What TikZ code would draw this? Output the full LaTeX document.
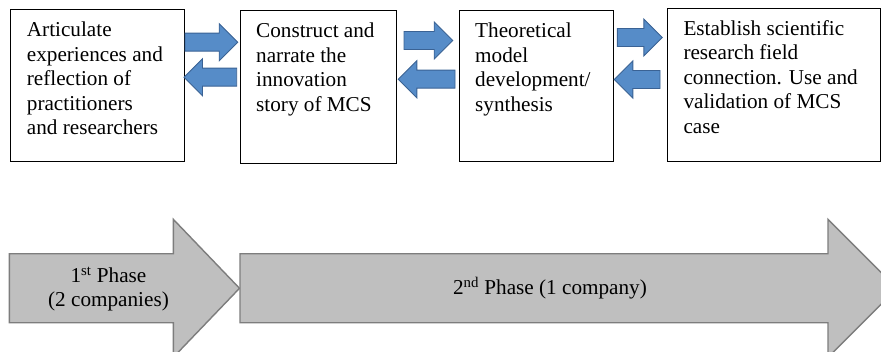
\documentclass[tikz,border=0pt]{standalone}
\usepackage{fontspec}
\setmainfont{Liberation Serif}
\usetikzlibrary{calc}
\definecolor{arrowblue}{RGB}{86,140,200}
\definecolor{arrowblueline}{RGB}{58,98,148}
\definecolor{phasegray}{RGB}{191,191,191}
\definecolor{phaseline}{RGB}{125,125,125}
\tikzset{
  box/.style={draw=black, line width=1pt, anchor=north west, inner sep=0pt},
  boxtext/.style={anchor=north west, inner sep=0pt, align=left,
    font=\fontsize{21.2}{24.5}\selectfont},
  phasetext/.style={inner sep=0pt, align=center,
    font=\fontsize{21.2}{24.2}\selectfont},
  bluearrow/.style={fill=arrowblue, draw=arrowblueline, line width=0.9pt, line join=miter},
  grayarrow/.style={fill=phasegray, draw=phaseline, line width=1.4pt, line join=miter}
}
\newcommand{\blockR}[3]{%
  \draw[bluearrow] (#1,#3-9) -- (#2-18.5,#3-9) -- (#2-18.5,#3-18.5) -- (#2,#3)
    -- (#2-18.5,#3+18.5) -- (#2-18.5,#3+9) -- (#1,#3+9) -- cycle;}
\newcommand{\blockL}[3]{%
  \draw[bluearrow] (#1,#3) -- (#1+18.5,#3-18.5) -- (#1+18.5,#3-9) -- (#2,#3-9)
    -- (#2,#3+9) -- (#1+18.5,#3+9) -- (#1+18.5,#3+18.5) -- cycle;}
\newcommand{\phasearrow}[3]{%
  \draw[grayarrow] (#1,253.8) -- (#2,253.8) -- (#2,219.3) -- (#3,288.3)
    -- (#2,357.3) -- (#2,322.8) -- (#1,322.8) -- cycle;}
\begin{document}
\begin{tikzpicture}[x=1pt,y=-1pt]
  \useasboundingbox (0,0) rectangle (881,352);
  \clip (0,0) rectangle (881,352);
  % boxes
  \node[box, minimum width=173.4pt, minimum height=152.3pt] (b1) at (10.3,8.7) {};
  \node[box, minimum width=155.7pt, minimum height=152.4pt] (b2) at (240,10.3) {};
  \node[box, minimum width=154pt, minimum height=150.7pt] (b3) at (458.7,10) {};
  \node[box, minimum width=213.6pt, minimum height=153.3pt] (b4) at (666.7,7.7) {};
  % box texts
  \node[boxtext] (t1) at (26.7,19.5) {\strut Articulate\\experiences and\\reflection of\\practitioners\\and researchers};
  \node[boxtext] (t2) at (256,20.2) {\strut Construct and\\narrate the\\innovation\\story of MCS};
  \node[boxtext] (t3) at (475,20.2) {\strut Theoretical\\model\\development/\\synthesis};
  \node[boxtext] (t4) at (683.3,17.9) {\strut Establish scientific\\research field\\connection. Use and\\validation of MCS\\case};
  % blue block arrows between boxes
  \blockR{185}{237.7}{42.2}
  \blockL{184}{236.7}{77.2}
  \blockR{404}{452.7}{40.5}
  \blockL{398.3}{455}{79.2}
  \blockR{617.3}{662.3}{37.5}
  \blockL{614.3}{660}{79.5}
  % phase arrows
  \phasearrow{9.3}{173.3}{239.5}
  \phasearrow{240}{828}{897}
  \node[phasetext, anchor=north] (p1) at (108.5,265.5) {\strut 1\textsuperscript{st} Phase\\(2 companies)};
  \node[phasetext, anchor=base] (p2) at (550,295) {2\textsuperscript{nd} Phase (1 company)};
\end{tikzpicture}
\end{document}
